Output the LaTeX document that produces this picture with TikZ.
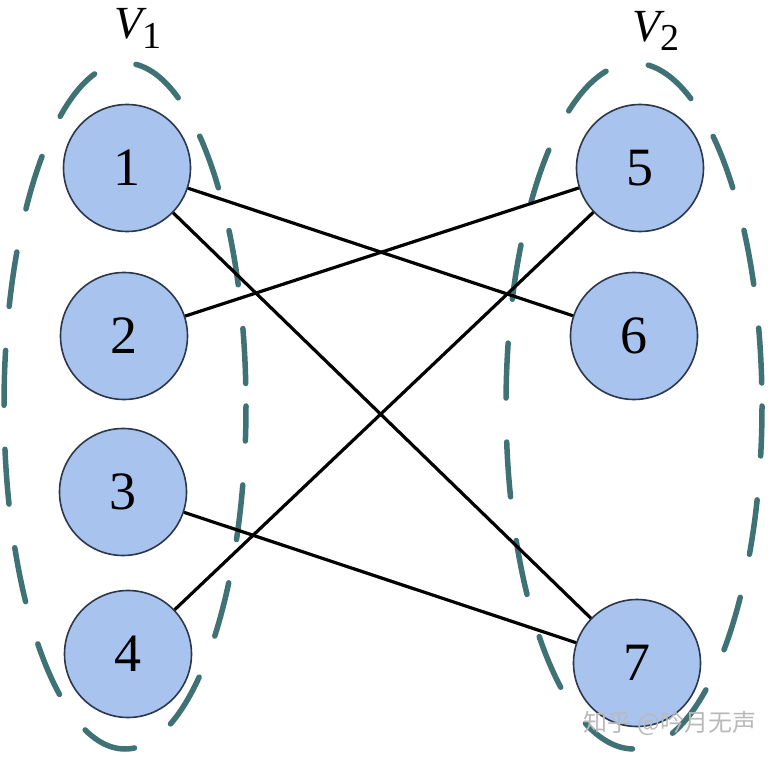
\documentclass[tikz,border=0pt]{standalone}
\usepackage{fontspec}
\setmainfont{Liberation Serif}
\newfontfamily\cjk{Noto Sans CJK SC}
\definecolor{teal1}{RGB}{62,114,116}
\definecolor{nodefill}{RGB}{168,196,238}
\definecolor{nodeline}{RGB}{45,55,75}
\tikzset{
  vnode/.style={circle, draw=nodeline, line width=1.6pt, fill=nodefill, minimum size=127pt, inner sep=0pt, font=\fontsize{54}{54}\selectfont},
  edgeline/.style={line width=3.2pt, black},
  groupline/.style={draw=teal1, line width=5.5pt, line cap=round, dash pattern=on 55pt off 44pt},
  setlabel/.style={anchor=base west, inner sep=0pt}
}
\begin{document}
\begin{tikzpicture}[x=1pt,y=-1pt]
\useasboundingbox (0,0) rectangle (777,757);
% groups
\draw[groupline, dash phase=20pt] (125,406) ellipse [x radius=121, y radius=343];
\draw[groupline, dash phase=5pt] (634,406) ellipse [x radius=128, y radius=343];
% nodes
\node[vnode] (n1) at (127,168) {1};
\node[vnode] (n2) at (124,336) {2};
\node[vnode] (n3) at (123,492) {3};
\node[vnode] (n4) at (128,654) {4};
\node[vnode] (n5) at (640,168) {5};
\node[vnode] (n6) at (634,336) {6};
\node[vnode] (n7) at (637,663) {7};
% edges
\draw[edgeline] (n1) -- (n6);
\draw[edgeline] (n1) -- (n7);
\draw[edgeline] (n2) -- (n5);
\draw[edgeline] (n3) -- (n7);
\draw[edgeline] (n4) -- (n5);
% labels
\node[setlabel] (v1) at (114,39) {{\fontsize{46}{46}\selectfont\itshape V}\raisebox{-10pt}{\fontsize{38}{38}\selectfont 1}};
\node[setlabel] (v2) at (632,42) {{\fontsize{46}{46}\selectfont\itshape V}\raisebox{-9pt}{\fontsize{38}{38}\selectfont 2}};
\node[anchor=center, text=gray!55, font=\cjk\fontsize{24}{24}\selectfont] (wm) at (670,723) {知乎 @吟月无声};
\end{tikzpicture}
\end{document}
